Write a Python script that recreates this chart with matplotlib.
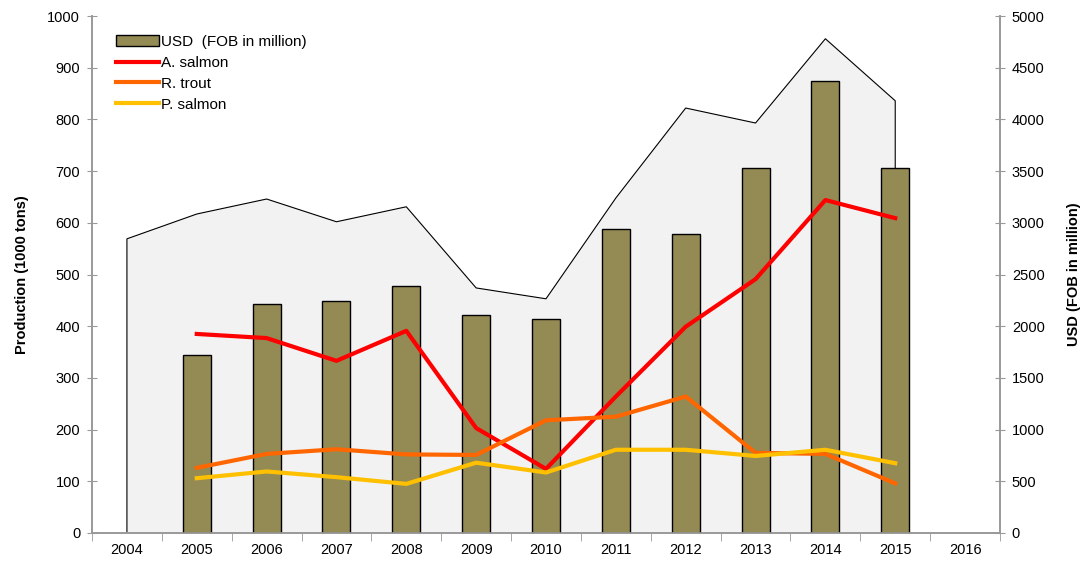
import matplotlib.pyplot as plt
import numpy as np

plt.rcParams['font.family'] = ['Liberation Sans', 'DejaVu Sans']

years = ['2004', '2005', '2006', '2007', '2008', '2009', '2010',
         '2011', '2012', '2013', '2014', '2015', '2016']
# total production (gray area), 2004-2015
total = [569, 617, 646, 602, 631, 474, 453, 648, 822, 793, 956, 836]
# USD FOB in million, 2005-2015
usd = [1720, 2215, 2244, 2389, 2108, 2070, 2940, 2892, 3530, 4371, 3530]
# production by species, 2005-2015
a_salmon = [385, 377, 333, 391, 203, 124, 264, 399, 491, 644, 609]
r_trout = [126, 153, 162, 152, 151, 218, 225, 264, 155, 153, 96]
p_salmon = [106, 119, 108, 95, 136, 117, 161, 161, 149, 161, 135]

x = np.arange(len(years))
x_total = x[:len(total)]
x_sp = x[1:1 + len(usd)]

fig = plt.figure(figsize=(10.84, 5.64), dpi=100)
pos = [92 / 1084, 1 - 533 / 564, (1000 - 92) / 1084, (533 - 16) / 564]
ax = fig.add_axes(pos)
ax2 = ax.twinx()
ax3 = fig.add_axes(pos, sharex=ax, sharey=ax)

# gray area
ax.fill_between(x_total, total, 0, facecolor='#f2f2f2', edgecolor='none')
ax.plot(np.r_[x_total[0], x_total, x_total[-1]], np.r_[0, total, 0],
        color='black', lw=0.8)

# bars on right axis
bars = ax2.bar(x_sp, usd, width=0.4, color='#948a54', edgecolor='black',
               lw=1.0, label='USD  (FOB in million)')

# lines on top
l1, = ax3.plot(x_sp, a_salmon, color='#ff0000', lw=3, label='A. salmon')
l2, = ax3.plot(x_sp, r_trout, color='#ff6600', lw=3, label='R. trout')
l3, = ax3.plot(x_sp, p_salmon, color='#ffc000', lw=3, label='P. salmon')
ax3.axis('off')
ax3.patch.set_visible(False)

ax.set_xlim(-0.5, len(years) - 0.5)
ax.set_ylim(0, 1000)
ax2.set_ylim(0, 5000)
ax.set_yticks(range(0, 1001, 100))
ax2.set_yticks(range(0, 5001, 500))
ax.set_xticks(x)
ax.set_xticklabels(years)
ax.set_xticks(np.arange(-0.5, len(years), 1), minor=True)
ax.tick_params(axis='x', which='major', length=0, pad=7, labelsize=10.5)
ax.tick_params(axis='x', which='minor', length=6, color='#999999', direction='out')
ax.tick_params(axis='y', direction='inout', length=7, color='#999999', labelsize=10.5, pad=5)
ax2.tick_params(axis='y', direction='inout', length=7, color='#999999', labelsize=10.5, pad=5)

for a in (ax, ax2):
    a.spines['top'].set_visible(False)
    for s in ('left', 'right', 'bottom'):
        a.spines[s].set_color('#999999')
        a.spines[s].set_linewidth(1.2)

ax.set_ylabel('Production (1000 tons)', fontweight='bold', fontsize=10.5, labelpad=13)
ax2.set_ylabel('USD (FOB in million)', fontweight='bold', fontsize=10.5, labelpad=16)

ax3.legend(handles=[bars, l1, l2, l3], loc='upper left', frameon=False,
           fontsize=11, handlelength=2.8, handletextpad=0.1,
           labelspacing=0.45, borderaxespad=0.0, bbox_to_anchor=(0.02, 0.975))

fig.savefig('out.png', dpi=100)
